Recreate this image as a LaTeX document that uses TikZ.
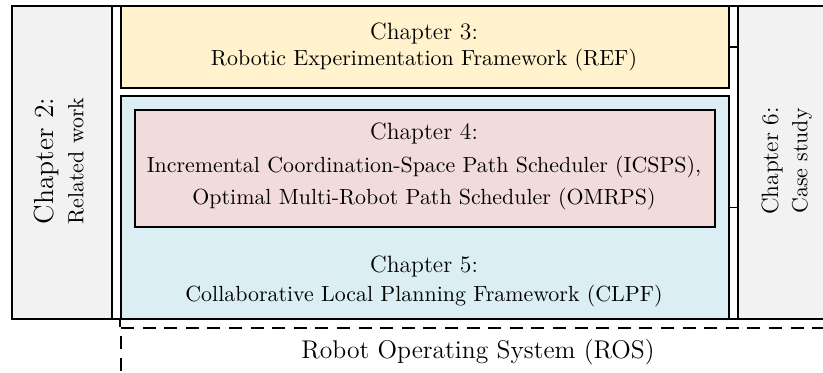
\documentclass[tikz,border=0pt]{standalone}
\definecolor{refyellow}{HTML}{FFF2CC}
\definecolor{clpfblue}{HTML}{DAEEF3}
\definecolor{schedpink}{HTML}{F2DCDB}
\definecolor{sidegray}{HTML}{F2F2F2}
\tikzset{
  chapbox/.style={rectangle, draw=black, line width=0.75pt, inner sep=0pt, anchor=north west},
  rosbox/.style={chapbox, dash pattern=on 6.5pt off 4.3pt},
  headtext/.style={font=\fontsize{11.8}{14}\selectfont, inner sep=0pt},
  bighead/.style={font=\fontsize{13.8}{16}\selectfont, inner sep=0pt},
  subtext/.style={font=\fontsize{10.95}{13}\selectfont, inner sep=0pt},
  rostext/.style={font=\fontsize{12.8}{15}\selectfont, inner sep=0pt},
  link/.style={draw=black, line width=0.75pt},
}
\begin{document}
\begin{tikzpicture}[x=0.5pt, y=-0.5pt]
\useasboundingbox (0,0) rectangle (823,372);
\clip (0,0) rectangle (823,372);

% outer frame holding all chapters
\node[chapbox, fill=white, line width=0.9pt, minimum width=413pt, minimum height=156.5pt] (frame) at (11,5) {};
% side columns
\node[chapbox, fill=sidegray, minimum width=50pt, minimum height=156.5pt] (ch2) at (11,5) {};
\node[chapbox, fill=sidegray, minimum width=50pt, minimum height=156.5pt] (ch6) at (737,5) {};
% middle column
\node[chapbox, fill=refyellow, minimum width=304pt, minimum height=41pt] (ref) at (120,5) {};
\node[chapbox, fill=clpfblue, minimum width=304pt, minimum height=111.5pt] (clpf) at (120,95) {};
\node[chapbox, fill=schedpink, minimum width=290pt, minimum height=58.5pt] (sched) at (134,109) {};
% ROS layer underneath
\node[rosbox, minimum width=358pt, minimum height=25pt] (ros) at (120,327) {};

% labels
\node[headtext] (ref-h) at (424,33) {Chapter 3:};
\node[subtext] (ref-s) at (424,60) {Robotic Experimentation Framework (REF)};
\node[headtext] (sched-h) at (424,133) {Chapter 4:};
\node[subtext] (sched-s1) at (424,167) {Incremental Coordination-Space Path Scheduler (ICSPS),};
\node[subtext] (sched-s2) at (424,199) {Optimal Multi-Robot Path Scheduler (OMRPS)};
\node[headtext] (clpf-h) at (424,266) {Chapter 5:};
\node[subtext] (clpf-s) at (424,296) {Collaborative Local Planning Framework (CLPF)};
\node[bighead, rotate=90] (ch2-h) at (46,161) {Chapter 2:};
\node[subtext, rotate=90] (ch2-s) at (76,161) {Related work};
\node[headtext, rotate=90] (ch6-h) at (772,161) {Chapter 6:};
\node[subtext, rotate=90] (ch6-s) at (802,161) {Case study};
\node[rostext] (ros-t) at (478,352) {Robot Operating System (ROS)};

% links to the case study
\draw[link] (ref.east) -- (ref.east -| ch6.west);
\draw[link] (clpf.east) -- (clpf.east -| ch6.west);
\draw[link] (clpf.south west) -- (ros.north west);
\end{tikzpicture}
\end{document}
